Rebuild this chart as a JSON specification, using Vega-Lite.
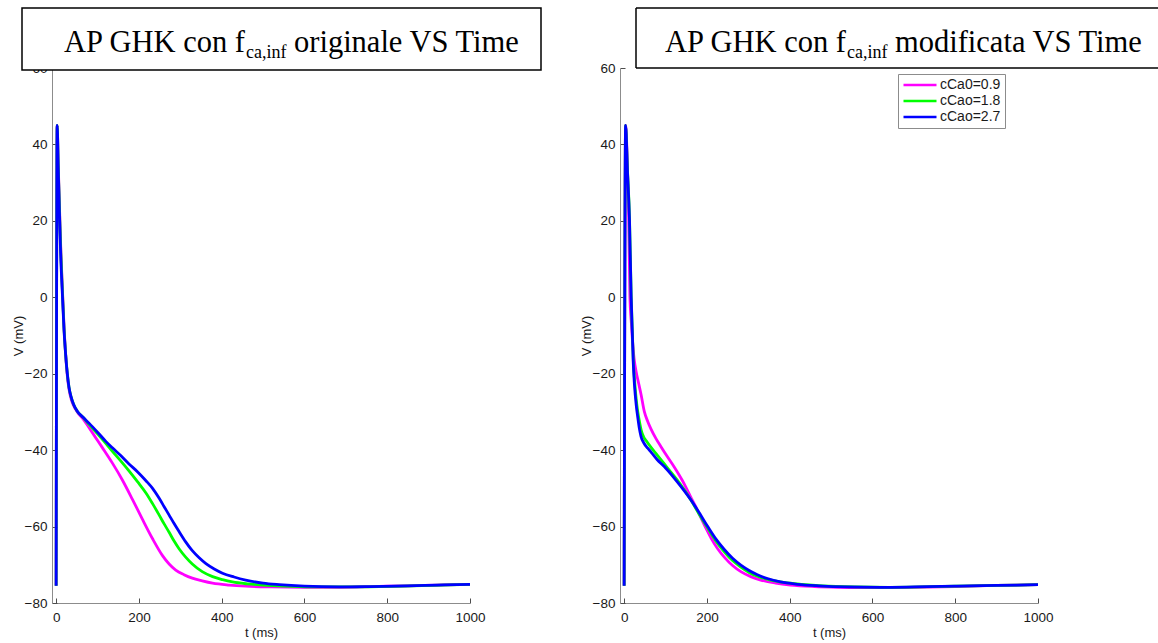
{
  "$schema": "https://vega.github.io/schema/vega-lite/v6.json",
  "background": "white",
  "padding": {"left": 12, "top": 7, "right": 0, "bottom": 0},
  "datasets": {
    "orig": [
      {"t":0,"V":-75.5,"s":"cCa0=0.9"},{"t":2.5,"V":45,"s":"cCa0=0.9"},{"t":5,"V":35,"s":"cCa0=0.9"},{"t":8,"V":24,"s":"cCa0=0.9"},{"t":11,"V":13.5,"s":"cCa0=0.9"},{"t":15,"V":2.5,"s":"cCa0=0.9"},{"t":19,"V":-7.5,"s":"cCa0=0.9"},{"t":23,"V":-15,"s":"cCa0=0.9"},{"t":27,"V":-20.5,"s":"cCa0=0.9"},{"t":31,"V":-24,"s":"cCa0=0.9"},{"t":36,"V":-26.5,"s":"cCa0=0.9"},{"t":42,"V":-28.3,"s":"cCa0=0.9"},{"t":51,"V":-30,"s":"cCa0=0.9"},{"t":65,"V":-31.8,"s":"cCa0=0.9"},{"t":80,"V":-34.2,"s":"cCa0=0.9"},{"t":96,"V":-36.8,"s":"cCa0=0.9"},{"t":112,"V":-39.4,"s":"cCa0=0.9"},{"t":136,"V":-43.4,"s":"cCa0=0.9"},{"t":160,"V":-47.8,"s":"cCa0=0.9"},{"t":184,"V":-52.8,"s":"cCa0=0.9"},{"t":208,"V":-58,"s":"cCa0=0.9"},{"t":233,"V":-63.2,"s":"cCa0=0.9"},{"t":257,"V":-67.6,"s":"cCa0=0.9"},{"t":273,"V":-69.8,"s":"cCa0=0.9"},{"t":289,"V":-71.4,"s":"cCa0=0.9"},{"t":309,"V":-72.6,"s":"cCa0=0.9"},{"t":329,"V":-73.5,"s":"cCa0=0.9"},{"t":353,"V":-74.2,"s":"cCa0=0.9"},{"t":378,"V":-74.8,"s":"cCa0=0.9"},{"t":418,"V":-75.3,"s":"cCa0=0.9"},{"t":458,"V":-75.6,"s":"cCa0=0.9"},{"t":520,"V":-75.8,"s":"cCa0=0.9"},{"t":600,"V":-75.9,"s":"cCa0=0.9"},{"t":680,"V":-75.9,"s":"cCa0=0.9"},{"t":760,"V":-75.7,"s":"cCa0=0.9"},{"t":850,"V":-75.5,"s":"cCa0=0.9"},{"t":920,"V":-75.3,"s":"cCa0=0.9"},{"t":1000,"V":-75.1,"s":"cCa0=0.9"},

      {"t":0,"V":-75.5,"s":"cCao=1.8"},{"t":2.5,"V":45,"s":"cCao=1.8"},{"t":5,"V":34.5,"s":"cCao=1.8"},{"t":8,"V":23,"s":"cCao=1.8"},{"t":11,"V":12.5,"s":"cCao=1.8"},{"t":15,"V":2,"s":"cCao=1.8"},{"t":19,"V":-8,"s":"cCao=1.8"},{"t":23,"V":-15,"s":"cCao=1.8"},{"t":27,"V":-20,"s":"cCao=1.8"},{"t":31,"V":-23.5,"s":"cCao=1.8"},{"t":36,"V":-26,"s":"cCao=1.8"},{"t":42,"V":-28,"s":"cCao=1.8"},{"t":51,"V":-29.8,"s":"cCao=1.8"},{"t":65,"V":-31.4,"s":"cCao=1.8"},{"t":80,"V":-33.3,"s":"cCao=1.8"},{"t":100,"V":-35.7,"s":"cCao=1.8"},{"t":120,"V":-38.2,"s":"cCao=1.8"},{"t":136,"V":-40.3,"s":"cCao=1.8"},{"t":156,"V":-42.8,"s":"cCao=1.8"},{"t":176,"V":-45.4,"s":"cCao=1.8"},{"t":197,"V":-48.3,"s":"cCao=1.8"},{"t":217,"V":-51.2,"s":"cCao=1.8"},{"t":233,"V":-54,"s":"cCao=1.8"},{"t":249,"V":-57,"s":"cCao=1.8"},{"t":261,"V":-59.3,"s":"cCao=1.8"},{"t":273,"V":-61.5,"s":"cCao=1.8"},{"t":285,"V":-63.8,"s":"cCao=1.8"},{"t":297,"V":-65.8,"s":"cCao=1.8"},{"t":313,"V":-68,"s":"cCao=1.8"},{"t":329,"V":-69.8,"s":"cCao=1.8"},{"t":353,"V":-71.8,"s":"cCao=1.8"},{"t":378,"V":-73.1,"s":"cCao=1.8"},{"t":402,"V":-73.9,"s":"cCao=1.8"},{"t":426,"V":-74.5,"s":"cCao=1.8"},{"t":462,"V":-75,"s":"cCao=1.8"},{"t":498,"V":-75.3,"s":"cCao=1.8"},{"t":550,"V":-75.6,"s":"cCao=1.8"},{"t":620,"V":-75.8,"s":"cCao=1.8"},{"t":700,"V":-75.8,"s":"cCao=1.8"},{"t":780,"V":-75.7,"s":"cCao=1.8"},{"t":860,"V":-75.5,"s":"cCao=1.8"},{"t":930,"V":-75.3,"s":"cCao=1.8"},{"t":1000,"V":-75.1,"s":"cCao=1.8"},

      {"t":0,"V":-75.5,"s":"cCao=2.7"},{"t":2.5,"V":45,"s":"cCao=2.7"},{"t":5,"V":34,"s":"cCao=2.7"},{"t":8,"V":22,"s":"cCao=2.7"},{"t":11,"V":11,"s":"cCao=2.7"},{"t":15,"V":1,"s":"cCao=2.7"},{"t":19,"V":-8.5,"s":"cCao=2.7"},{"t":23,"V":-15,"s":"cCao=2.7"},{"t":27,"V":-20,"s":"cCao=2.7"},{"t":31,"V":-23.5,"s":"cCao=2.7"},{"t":36,"V":-26,"s":"cCao=2.7"},{"t":42,"V":-28,"s":"cCao=2.7"},{"t":51,"V":-29.8,"s":"cCao=2.7"},{"t":65,"V":-31.4,"s":"cCao=2.7"},{"t":80,"V":-33,"s":"cCao=2.7"},{"t":100,"V":-35.3,"s":"cCao=2.7"},{"t":120,"V":-37.7,"s":"cCao=2.7"},{"t":136,"V":-39.4,"s":"cCao=2.7"},{"t":156,"V":-41.4,"s":"cCao=2.7"},{"t":176,"V":-43.6,"s":"cCao=2.7"},{"t":197,"V":-45.7,"s":"cCao=2.7"},{"t":217,"V":-48,"s":"cCao=2.7"},{"t":233,"V":-50,"s":"cCao=2.7"},{"t":249,"V":-52.6,"s":"cCao=2.7"},{"t":261,"V":-54.8,"s":"cCao=2.7"},{"t":273,"V":-57,"s":"cCao=2.7"},{"t":285,"V":-59.2,"s":"cCao=2.7"},{"t":297,"V":-61.3,"s":"cCao=2.7"},{"t":313,"V":-64,"s":"cCao=2.7"},{"t":329,"V":-66.3,"s":"cCao=2.7"},{"t":345,"V":-68.1,"s":"cCao=2.7"},{"t":362,"V":-69.7,"s":"cCao=2.7"},{"t":382,"V":-71.1,"s":"cCao=2.7"},{"t":402,"V":-72.2,"s":"cCao=2.7"},{"t":430,"V":-73.2,"s":"cCao=2.7"},{"t":458,"V":-74,"s":"cCao=2.7"},{"t":500,"V":-74.8,"s":"cCao=2.7"},{"t":539,"V":-75.2,"s":"cCao=2.7"},{"t":600,"V":-75.6,"s":"cCao=2.7"},{"t":684,"V":-75.8,"s":"cCao=2.7"},{"t":760,"V":-75.7,"s":"cCao=2.7"},{"t":850,"V":-75.5,"s":"cCao=2.7"},{"t":920,"V":-75.3,"s":"cCao=2.7"},{"t":1000,"V":-75.1,"s":"cCao=2.7"}
    ],
    "mod": [
      {"t":0,"V":-75.5,"s":"cCa0=0.9"},{"t":3.5,"V":45,"s":"cCa0=0.9"},{"t":8,"V":34,"s":"cCa0=0.9"},{"t":11,"V":21,"s":"cCa0=0.9"},{"t":14,"V":0,"s":"cCa0=0.9"},{"t":17,"V":-6,"s":"cCa0=0.9"},{"t":20,"V":-11,"s":"cCa0=0.9"},{"t":24,"V":-16,"s":"cCa0=0.9"},{"t":29,"V":-19.5,"s":"cCa0=0.9"},{"t":35,"V":-22.5,"s":"cCa0=0.9"},{"t":41,"V":-25.5,"s":"cCa0=0.9"},{"t":49,"V":-30,"s":"cCa0=0.9"},{"t":57,"V":-32.5,"s":"cCa0=0.9"},{"t":65,"V":-34.5,"s":"cCa0=0.9"},{"t":77,"V":-37,"s":"cCa0=0.9"},{"t":89,"V":-39.1,"s":"cCa0=0.9"},{"t":105,"V":-41.8,"s":"cCa0=0.9"},{"t":121,"V":-44.4,"s":"cCa0=0.9"},{"t":141,"V":-48,"s":"cCa0=0.9"},{"t":161,"V":-52.3,"s":"cCa0=0.9"},{"t":174,"V":-55,"s":"cCa0=0.9"},{"t":186,"V":-57.8,"s":"cCa0=0.9"},{"t":198,"V":-60.5,"s":"cCa0=0.9"},{"t":210,"V":-63,"s":"cCa0=0.9"},{"t":226,"V":-65.8,"s":"cCa0=0.9"},{"t":242,"V":-68,"s":"cCa0=0.9"},{"t":262,"V":-70.2,"s":"cCa0=0.9"},{"t":282,"V":-71.8,"s":"cCa0=0.9"},{"t":306,"V":-73.1,"s":"cCa0=0.9"},{"t":330,"V":-74,"s":"cCa0=0.9"},{"t":366,"V":-74.8,"s":"cCa0=0.9"},{"t":402,"V":-75.3,"s":"cCa0=0.9"},{"t":460,"V":-75.7,"s":"cCa0=0.9"},{"t":523,"V":-75.9,"s":"cCa0=0.9"},{"t":600,"V":-76,"s":"cCa0=0.9"},{"t":700,"V":-75.9,"s":"cCa0=0.9"},{"t":800,"V":-75.7,"s":"cCa0=0.9"},{"t":900,"V":-75.4,"s":"cCa0=0.9"},{"t":1000,"V":-75.2,"s":"cCa0=0.9"},

      {"t":0,"V":-75.5,"s":"cCao=1.8"},{"t":3.5,"V":45,"s":"cCao=1.8"},{"t":8,"V":33.5,"s":"cCao=1.8"},{"t":13,"V":20.5,"s":"cCao=1.8"},{"t":17,"V":0.5,"s":"cCao=1.8"},{"t":20,"V":-9.5,"s":"cCao=1.8"},{"t":22,"V":-16,"s":"cCao=1.8"},{"t":25,"V":-21.5,"s":"cCao=1.8"},{"t":29,"V":-26.5,"s":"cCao=1.8"},{"t":33,"V":-30,"s":"cCao=1.8"},{"t":37,"V":-32.5,"s":"cCao=1.8"},{"t":41,"V":-34.7,"s":"cCao=1.8"},{"t":47,"V":-36.5,"s":"cCao=1.8"},{"t":53,"V":-37.5,"s":"cCao=1.8"},{"t":65,"V":-39.3,"s":"cCao=1.8"},{"t":80,"V":-41.3,"s":"cCao=1.8"},{"t":105,"V":-44.7,"s":"cCao=1.8"},{"t":133,"V":-48.5,"s":"cCao=1.8"},{"t":161,"V":-53,"s":"cCao=1.8"},{"t":181,"V":-56.7,"s":"cCao=1.8"},{"t":202,"V":-60.4,"s":"cCao=1.8"},{"t":222,"V":-63.8,"s":"cCao=1.8"},{"t":242,"V":-66.6,"s":"cCao=1.8"},{"t":262,"V":-68.9,"s":"cCao=1.8"},{"t":282,"V":-70.6,"s":"cCao=1.8"},{"t":302,"V":-72,"s":"cCao=1.8"},{"t":322,"V":-73,"s":"cCao=1.8"},{"t":354,"V":-74,"s":"cCao=1.8"},{"t":386,"V":-74.6,"s":"cCao=1.8"},{"t":430,"V":-75.1,"s":"cCao=1.8"},{"t":480,"V":-75.5,"s":"cCao=1.8"},{"t":560,"V":-75.8,"s":"cCao=1.8"},{"t":640,"V":-75.9,"s":"cCao=1.8"},{"t":720,"V":-75.8,"s":"cCao=1.8"},{"t":800,"V":-75.6,"s":"cCao=1.8"},{"t":900,"V":-75.4,"s":"cCao=1.8"},{"t":1000,"V":-75.2,"s":"cCao=1.8"},

      {"t":0,"V":-75.5,"s":"cCao=2.7"},{"t":3.5,"V":45,"s":"cCao=2.7"},{"t":8,"V":33,"s":"cCao=2.7"},{"t":13,"V":20,"s":"cCao=2.7"},{"t":17,"V":0,"s":"cCao=2.7"},{"t":20,"V":-10,"s":"cCao=2.7"},{"t":22,"V":-17,"s":"cCao=2.7"},{"t":25,"V":-23,"s":"cCao=2.7"},{"t":29,"V":-28,"s":"cCao=2.7"},{"t":33,"V":-31.5,"s":"cCao=2.7"},{"t":37,"V":-34.5,"s":"cCao=2.7"},{"t":41,"V":-36.5,"s":"cCao=2.7"},{"t":47,"V":-38,"s":"cCao=2.7"},{"t":57,"V":-39.5,"s":"cCao=2.7"},{"t":65,"V":-40.5,"s":"cCao=2.7"},{"t":80,"V":-42.5,"s":"cCao=2.7"},{"t":97,"V":-44.3,"s":"cCao=2.7"},{"t":117,"V":-46.8,"s":"cCao=2.7"},{"t":137,"V":-49.5,"s":"cCao=2.7"},{"t":161,"V":-53,"s":"cCao=2.7"},{"t":178,"V":-55.8,"s":"cCao=2.7"},{"t":202,"V":-60,"s":"cCao=2.7"},{"t":222,"V":-63.3,"s":"cCao=2.7"},{"t":242,"V":-66,"s":"cCao=2.7"},{"t":262,"V":-68.3,"s":"cCao=2.7"},{"t":282,"V":-70.1,"s":"cCao=2.7"},{"t":302,"V":-71.5,"s":"cCao=2.7"},{"t":322,"V":-72.6,"s":"cCao=2.7"},{"t":346,"V":-73.6,"s":"cCao=2.7"},{"t":378,"V":-74.5,"s":"cCao=2.7"},{"t":419,"V":-75.1,"s":"cCao=2.7"},{"t":470,"V":-75.5,"s":"cCao=2.7"},{"t":539,"V":-75.8,"s":"cCao=2.7"},{"t":620,"V":-75.9,"s":"cCao=2.7"},{"t":700,"V":-75.8,"s":"cCao=2.7"},{"t":800,"V":-75.6,"s":"cCao=2.7"},{"t":900,"V":-75.4,"s":"cCao=2.7"},{"t":1000,"V":-75.2,"s":"cCao=2.7"}
    ]
  },
  "hconcat": [
    {
      "width": 418,
      "height": 535,
      "layer": [
        {
          "data": {"name": "orig"},
          "mark": {"type": "line", "strokeWidth": 2.8, "interpolate": "monotone"},
          "encoding": {
            "x": {"field": "t", "type": "quantitative", "scale": {"domain": [-10, 1000], "nice": false, "zero": false}, "axis": {"values": [0, 200, 400, 600, 800, 1000], "format": "d", "title": "t (ms)"}},
            "y": {"field": "V", "type": "quantitative", "scale": {"domain": [-80, 60], "nice": false}, "axis": {"values": [-80, -60, -40, -20, 0, 20, 40, 60], "format": "d", "title": "V (mV)"}},
            "color": {"field": "s", "type": "nominal", "scale": {"domain": ["cCa0=0.9", "cCao=1.8", "cCao=2.7"], "range": ["#ff00ff", "#00ff00", "#0000ff"]}, "legend": null}
          }
        },
        {
          "data": {"values": [{}]},
          "mark": {"type": "rect", "x": -30, "x2": 489, "y": -60, "y2": 2, "fill": "white", "stroke": "black", "strokeWidth": 1.5}
        },
        {
          "data": {"values": [{}]},
          "mark": {"type": "text", "x": 193, "y": -16, "align": "right", "baseline": "alphabetic", "font": "Liberation Serif", "fontSize": 30.5, "color": "black", "text": "AP GHK con f"}
        },
        {
          "data": {"values": [{}]},
          "mark": {"type": "text", "x": 194, "y": -10, "align": "left", "baseline": "alphabetic", "font": "Liberation Serif", "fontSize": 18, "color": "black", "text": "ca,inf"}
        },
        {
          "data": {"values": [{}]},
          "mark": {"type": "text", "x": 242, "y": -16, "align": "left", "baseline": "alphabetic", "font": "Liberation Serif", "fontSize": 30.5, "color": "black", "text": "originale VS Time"}
        }
      ]
    },
    {
      "width": 418,
      "height": 535,
      "layer": [
        {
          "data": {"name": "mod"},
          "mark": {"type": "line", "strokeWidth": 2.8, "interpolate": "monotone"},
          "encoding": {
            "x": {"field": "t", "type": "quantitative", "scale": {"domain": [-10, 1000], "nice": false, "zero": false}, "axis": {"values": [0, 200, 400, 600, 800, 1000], "format": "d", "title": "t (ms)"}},
            "y": {"field": "V", "type": "quantitative", "scale": {"domain": [-80, 60], "nice": false}, "axis": {"values": [-80, -60, -40, -20, 0, 20, 40, 60], "format": "d", "title": "V (mV)"}},
            "color": {
              "field": "s", "type": "nominal",
              "scale": {"domain": ["cCa0=0.9", "cCao=1.8", "cCao=2.7"], "range": ["#ff00ff", "#00ff00", "#0000ff"]},
              "legend": {"orient": "none", "legendX": 278, "legendY": 6, "title": null, "symbolType": "M-1,0H5", "symbolSize": 121, "symbolStrokeWidth": 2.5, "labelOffset": 24, "labelFont": "Liberation Sans", "labelFontSize": 14, "labelColor": "#1a1a1a", "strokeColor": "#8c8c8c", "fillColor": "white", "padding": 4, "rowPadding": 2}
            }
          }
        },
        {
          "data": {"values": [{}]},
          "mark": {"type": "rect", "x": 16, "x2": 538, "y": -60, "y2": 0, "fill": "white"}
        },
        {
          "data": {"values": [{}]},
          "mark": {"type": "rule", "stroke": "black", "strokeWidth": 1.5},
          "encoding": {"x": {"value": 16}, "x2": {"value": 538}, "y": {"value": -60}}
        },
        {
          "data": {"values": [{}]},
          "mark": {"type": "rule", "stroke": "black", "strokeWidth": 1.5},
          "encoding": {"x": {"value": 16}, "x2": {"value": 538}, "y": {"value": 0}}
        },
        {
          "data": {"values": [{}]},
          "mark": {"type": "rule", "stroke": "black", "strokeWidth": 1.5},
          "encoding": {"x": {"value": 16}, "y": {"value": -60}, "y2": {"value": 0}}
        },
        {
          "data": {"values": [{}]},
          "mark": {"type": "text", "x": 226, "y": -16, "align": "right", "baseline": "alphabetic", "font": "Liberation Serif", "fontSize": 30.5, "color": "black", "text": "AP GHK con f"}
        },
        {
          "data": {"values": [{}]},
          "mark": {"type": "text", "x": 227, "y": -10, "align": "left", "baseline": "alphabetic", "font": "Liberation Serif", "fontSize": 18, "color": "black", "text": "ca,inf"}
        },
        {
          "data": {"values": [{}]},
          "mark": {"type": "text", "x": 275, "y": -16, "align": "left", "baseline": "alphabetic", "font": "Liberation Serif", "fontSize": 30.5, "color": "black", "text": "modificata VS Time"}
        }
      ]
    }
  ],
  "spacing": 38,
  "resolve": {"scale": {"color": "independent"}, "legend": {"color": "independent"}},
  "config": {
    "view": {"stroke": null},
    "font": "Liberation Sans",
    "axis": {
      "grid": false,
      "domainColor": "#8c8c8c",
      "domainWidth": 1,
      "tickColor": "#4d4d4d",
      "tickWidth": 1,
      "tickSize": -5,
      "labelFont": "Liberation Sans",
      "labelFontSize": 13.5,
      "labelColor": "#1a1a1a",
      "labelFlush": false,
      "labelOverlap": false,
      "titleFont": "Liberation Sans",
      "titleFontSize": 13,
      "titleFontWeight": "normal",
      "titleColor": "#1a1a1a"
    },
    "axisX": {"labelPadding": 12, "titlePadding": 3},
    "axisY": {"labelPadding": 10, "titlePadding": -1}
  }
}
